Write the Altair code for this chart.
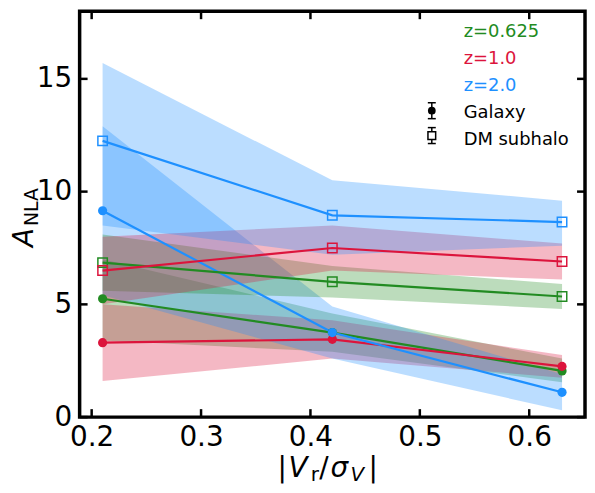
import altair as alt
import pandas as pd

# x positions of the three bins
x_vals = [0.21, 0.42, 0.63]

z_labels = ["z=0.625", "z=1.0", "z=2.0"]
z_colors = ["#228B22", "#DC143C", "#1E90FF"]

# Galaxy (filled circles): value, lower and upper edge of the band
gal_z0625 = [5.25, 3.75, 2.05]
gal_z0625_lo = [3.4, 2.9, 1.55]
gal_z0625_hi = [7.0, 4.6, 2.6]

gal_z10 = [3.3, 3.45, 2.25]
gal_z10_lo = [1.6, 2.6, 1.75]
gal_z10_hi = [5.0, 4.3, 2.75]

gal_z20 = [9.15, 3.75, 1.1]
gal_z20_lo = [5.4, 2.6, 0.3]
gal_z20_hi = [12.9, 4.9, 1.9]

# DM subhalo (open squares)
dm_z0625 = [6.85, 6.0, 5.35]
dm_z0625_lo = [5.6, 5.3, 4.8]
dm_z0625_hi = [8.1, 6.7, 5.9]

dm_z10 = [6.5, 7.5, 6.9]
dm_z10_lo = [5.0, 6.5, 6.1]
dm_z10_hi = [8.0, 8.5, 7.7]

dm_z20 = [12.25, 8.95, 8.65]
dm_z20_lo = [8.5, 7.2, 7.6]
dm_z20_hi = [15.7, 10.5, 9.6]

x_ticks = [0.2, 0.3, 0.4, 0.5, 0.6]
y_ticks = [0, 5, 10, 15]

W, H = 508, 408
FONT = "DejaVu Sans"

series = [
    ("Galaxy", "z=0.625", gal_z0625, gal_z0625_lo, gal_z0625_hi),
    ("Galaxy", "z=1.0", gal_z10, gal_z10_lo, gal_z10_hi),
    ("Galaxy", "z=2.0", gal_z20, gal_z20_lo, gal_z20_hi),
    ("DM subhalo", "z=0.625", dm_z0625, dm_z0625_lo, dm_z0625_hi),
    ("DM subhalo", "z=1.0", dm_z10, dm_z10_lo, dm_z10_hi),
    ("DM subhalo", "z=2.0", dm_z20, dm_z20_lo, dm_z20_hi),
]
rows = []
for kind, z, mid, lo, hi in series:
    for i in range(len(x_vals)):
        rows.append({"kind": kind, "z": z, "x": x_vals[i], "y": mid[i], "lo": lo[i], "hi": hi[i]})
df = pd.DataFrame(rows)

xs = alt.Scale(domain=[0.189, 0.651], nice=False, zero=False)
ys = alt.Scale(domain=[0, 18], nice=False)
x_axis = alt.Axis(title=None, values=x_ticks, format=".1f", ticks=False, domain=False, grid=False,
                  labelFontSize=28, labelFont=FONT, labelColor="black", labelPadding=7,
                  labelFlush=False, labelOverlap=False)
y_axis = alt.Axis(title=None, values=y_ticks, format="d", ticks=False, domain=False, grid=False,
                  labelFontSize=28, labelFont=FONT, labelColor="black", labelPadding=8,
                  labelFlush=False, labelOverlap=False)
x_enc = alt.X("x:Q", scale=xs, axis=x_axis)
y_enc = alt.Y("y:Q", scale=ys, axis=y_axis)
color = alt.Color("z:N", scale=alt.Scale(domain=z_labels, range=z_colors), legend=None)

base = alt.Chart(df)

bands = base.mark_area(opacity=0.3).encode(
    x=x_enc, y=alt.Y("lo:Q", scale=ys, axis=y_axis), y2="hi:Q", color=color, detail="kind:N"
)
lines = base.mark_line(strokeWidth=2.2).encode(x=x_enc, y=y_enc, color=color, detail="kind:N")
gal_pts = base.transform_filter(alt.datum.kind == "Galaxy").mark_point(
    shape="circle", filled=True, size=85, opacity=1
).encode(x=x_enc, y=y_enc, color=color)
dm_pts = base.transform_filter(alt.datum.kind == "DM subhalo").mark_point(
    shape="square", filled=False, size=90, strokeWidth=1.5, opacity=1
).encode(x=x_enc, y=y_enc, color=color)

# inward ticks on all four sides
xt = alt.Chart(pd.DataFrame({"x": x_ticks})).mark_rule(color="black", strokeWidth=2.5)
yt = alt.Chart(pd.DataFrame({"y": y_ticks})).mark_rule(color="black", strokeWidth=2.5)
ticks = [
    xt.encode(x=x_enc, y=alt.value(H), y2=alt.value(H - 8)),
    xt.encode(x=x_enc, y=alt.value(0), y2=alt.value(8)),
    yt.encode(y=y_enc, x=alt.value(0), x2=alt.value(8)),
    yt.encode(y=y_enc, x=alt.value(W - 8), x2=alt.value(W)),
]


def label(text, x, y, size, italic=False, color="black", align="center", angle=0):
    return alt.Chart(pd.DataFrame({"t": [text]})).mark_text(
        font=FONT, fontSize=size, fontStyle="italic" if italic else "normal",
        align=align, baseline="alphabetic", angle=angle, color=color
    ).encode(text="t:N", x=alt.value(x), y=alt.value(y))


# x title |V_r / sigma_V|
tb = 468
x_title = [
    label("|", 203.5, tb, 28),
    label("V", 219.5, tb, 28, italic=True),
    label("r", 236.5, tb + 4, 20),
    label("/", 245.5, tb, 28),
    label("σ", 261, tb, 28, italic=True),
    label("V", 279, tb + 4, 20, italic=True),
    label("|", 295, tb, 28),
]
# y title A_NLA
y_title = [
    label("A", -47, 237, 28, italic=True, align="left", angle=270),
    label("NLA", -41.5, 216, 19, align="left", angle=270),
]

# legend
leg_x = 386
legend = [label(z, leg_x, 26 + 27 * i, 18, color=c, align="left") for i, (z, c) in enumerate(zip(z_labels, z_colors))]
legend += [
    label("Galaxy", leg_x, 107, 18, align="left"),
    label("DM subhalo", leg_x, 134, 18, align="left"),
]
mx = 354
for cy in [100, 125]:
    one = alt.Chart(pd.DataFrame({"c": [cy]}))
    legend += [
        one.mark_rule(color="black", strokeWidth=1.5).encode(x=alt.value(mx), y=alt.value(cy - 8), y2=alt.value(cy + 8)),
        one.mark_rule(color="black", strokeWidth=1.5).encode(x=alt.value(mx - 4), x2=alt.value(mx + 4), y=alt.value(cy - 8)),
        one.mark_rule(color="black", strokeWidth=1.5).encode(x=alt.value(mx - 4), x2=alt.value(mx + 4), y=alt.value(cy + 8)),
    ]
dot = alt.Chart(pd.DataFrame({"c": [1]}))
legend += [
    dot.mark_point(shape="circle", filled=True, size=60, color="black", opacity=1)
    .encode(x=alt.value(mx), y=alt.value(100)),
    dot.mark_point(shape="square", filled=True, size=60, color="white", opacity=1)
    .encode(x=alt.value(mx), y=alt.value(125)),
    dot.mark_point(shape="square", filled=False, size=60, color="black", strokeWidth=1.5, opacity=1)
    .encode(x=alt.value(mx), y=alt.value(125)),
]

chart = alt.layer(bands, lines, gal_pts, dm_pts, *ticks, *x_title, *y_title, *legend).properties(
    width=W, height=H,
    autosize=alt.AutoSizeParams(type="none"),
    padding={"left": 72, "top": 2, "right": 2, "bottom": 67},
).configure_view(stroke="black", strokeWidth=3.5)

chart.save("out.html", embed_options={"renderer": "svg", "actions": False})
